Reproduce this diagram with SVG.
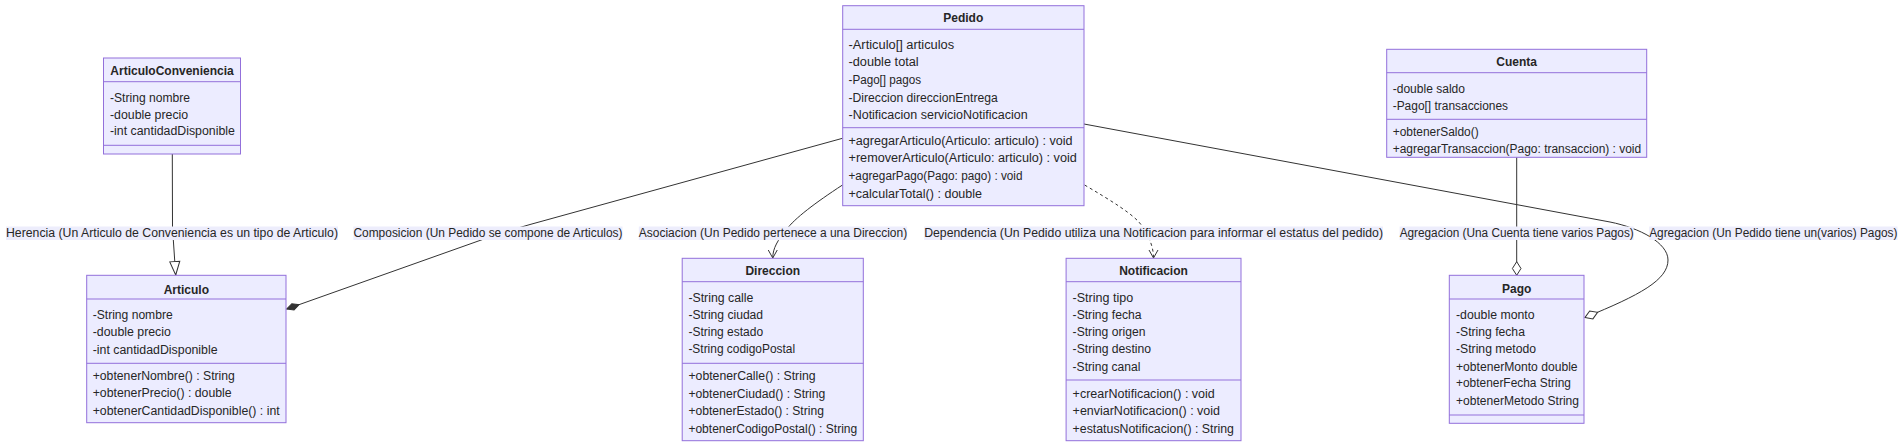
<svg xmlns="http://www.w3.org/2000/svg" width="1904" height="447" viewBox="0 0 1904 447">
<style>
.box rect{fill:#ECECFF;stroke:#9370DB;stroke-width:1}
.box line{stroke:#9370DB;stroke-width:1}
text{font-family:"Liberation Sans",Arial,sans-serif;font-size:12px;fill:#262626}
.title{font-weight:bold;text-anchor:middle}
.lbl rect{fill:#EDEDFC;stroke:none}
.lbl text{text-anchor:middle}
.edge{fill:none;stroke:#333;stroke-width:1}
.dash{stroke-dasharray:3,3}
</style>
<defs>
<marker id="composition" viewBox="-14 -5 15 10" refX="0" refY="0" markerWidth="15" markerHeight="10" orient="auto" markerUnits="userSpaceOnUse"><path d="M0,0 L-6.5,-3.3 L-13,0 L-6.5,3.3 Z" fill="#333" stroke="#333" stroke-width="1"/></marker>
<marker id="aggregation" viewBox="-15 -6 16 12" refX="0" refY="0" markerWidth="16" markerHeight="12" orient="auto" markerUnits="userSpaceOnUse"><path d="M0,0 L-6.8,-4.3 L-13.6,0 L-6.8,4.3 Z" fill="#fff" stroke="#333" stroke-width="1"/></marker>
<marker id="extension" viewBox="-15 -6 16 12" refX="0" refY="0" markerWidth="16" markerHeight="12" orient="auto" markerUnits="userSpaceOnUse"><path d="M0,0 L-13.5,-5 L-13.5,5 Z" fill="#fff" stroke="#333" stroke-width="1"/></marker>
<marker id="vee" viewBox="-10 -6 11 12" refX="0" refY="0" markerWidth="11" markerHeight="12" orient="auto" markerUnits="userSpaceOnUse"><path d="M-8,-4.5 L0,0 L-8,4.5" fill="none" stroke="#333" stroke-width="1" stroke-dasharray="none"/></marker>
</defs>

<g id="connectors">
<path class="edge" d="M172.3,154 L172.5,228 L175.7,275" marker-end="url(#extension)"/>
<path class="edge" d="M842.5,138.3 L530,224.5 Q506,231 484,239 L286.8,309" marker-end="url(#composition)"/>
<path class="edge" d="M842.5,185 C815,203 795,218 786,230 C778,240 772.75,248 772.75,258" marker-end="url(#vee)"/>
<path class="edge dash" d="M1084.6,185 C1110,200 1135,215 1142,226 C1150,238 1153.5,248 1153.5,258" marker-end="url(#vee)"/>
<path class="edge" d="M1516.7,157.3 L1516.7,275.3" marker-end="url(#aggregation)"/>
<path class="edge" d="M1084,124 L1610,222 C1640,228 1668,243 1668,260 C1668,280 1640,295 1585,317.5" marker-end="url(#aggregation)"/>
</g>

<g id="edge-labels">
<g class="lbl"><rect x="6" y="226.5" width="332" height="13.5"/><text x="172" y="237.3" textLength="332" lengthAdjust="spacingAndGlyphs">Herencia (Un Articulo de Conveniencia es un tipo de Articulo)</text></g>
<g class="lbl"><rect x="353.4" y="226.5" width="269.1" height="13.5"/><text x="488" y="237.3" textLength="269.1" lengthAdjust="spacingAndGlyphs">Composicion (Un Pedido se compone de Articulos)</text></g>
<g class="lbl"><rect x="638.8" y="226.5" width="268.4" height="13.5"/><text x="773" y="237.3" textLength="268.4" lengthAdjust="spacingAndGlyphs">Asociacion (Un Pedido pertenece a una Direccion)</text></g>
<g class="lbl"><rect x="924.2" y="226.5" width="458.8" height="13.5"/><text x="1153.6" y="237.3" textLength="458.8" lengthAdjust="spacingAndGlyphs">Dependencia (Un Pedido utiliza una Notificacion para informar el estatus del pedido)</text></g>
<g class="lbl"><rect x="1399.6" y="226.5" width="234.1" height="13.5"/><text x="1516.7" y="237.3" textLength="234.1" lengthAdjust="spacingAndGlyphs">Agregacion (Una Cuenta tiene varios Pagos)</text></g>
<g class="lbl"><rect x="1649.2" y="226.5" width="248.3" height="13.5"/><text x="1773.3" y="237.3" textLength="248.3" lengthAdjust="spacingAndGlyphs">Agregacion (Un Pedido tiene un(varios) Pagos)</text></g>
</g>

<g id="ArticuloConveniencia" class="box">
<rect x="103.5" y="58" width="137" height="96"/>
<line x1="103.5" y1="81.7" x2="240.5" y2="81.7"/>
<line x1="103.5" y1="145.3" x2="240.5" y2="145.3"/>
<text class="title" x="172" y="74.7">ArticuloConveniencia</text>
<text x="110" y="102" textLength="80" lengthAdjust="spacingAndGlyphs">-String nombre</text>
<text x="110" y="118.7" textLength="78.2" lengthAdjust="spacingAndGlyphs">-double precio</text>
<text x="110" y="135.4" textLength="124.9" lengthAdjust="spacingAndGlyphs">-int cantidadDisponible</text>
</g>

<g id="Articulo" class="box">
<rect x="86.7" y="275.3" width="199.3" height="147.4"/>
<line x1="86.7" y1="299" x2="286" y2="299"/>
<line x1="86.7" y1="363.3" x2="286" y2="363.3"/>
<text class="title" x="186.3" y="293.5">Articulo</text>
<text x="92.7" y="319" textLength="80" lengthAdjust="spacingAndGlyphs">-String nombre</text>
<text x="92.7" y="336.2" textLength="78.2" lengthAdjust="spacingAndGlyphs">-double precio</text>
<text x="92.7" y="353.5" textLength="124.9" lengthAdjust="spacingAndGlyphs">-int cantidadDisponible</text>
<text x="92.7" y="379.5" textLength="142.2" lengthAdjust="spacingAndGlyphs">+obtenerNombre() : String</text>
<text x="92.7" y="397" textLength="139" lengthAdjust="spacingAndGlyphs">+obtenerPrecio() : double</text>
<text x="92.7" y="414.7" textLength="187" lengthAdjust="spacingAndGlyphs">+obtenerCantidadDisponible() : int</text>
</g>

<g id="Pedido" class="box">
<rect x="842.7" y="5.7" width="241.3" height="200"/>
<line x1="842.7" y1="29.3" x2="1084" y2="29.3"/>
<line x1="842.7" y1="127.7" x2="1084" y2="127.7"/>
<text class="title" x="963.3" y="22.4">Pedido</text>
<text x="848.5" y="48.5" textLength="105.7" lengthAdjust="spacingAndGlyphs">-Articulo[] articulos</text>
<text x="848.5" y="66.2" textLength="70.2" lengthAdjust="spacingAndGlyphs">-double total</text>
<text x="848.5" y="83.9" textLength="72.6" lengthAdjust="spacingAndGlyphs">-Pago[] pagos</text>
<text x="848.5" y="101.6" textLength="149.2" lengthAdjust="spacingAndGlyphs">-Direccion direccionEntrega</text>
<text x="848.5" y="119.3" textLength="179.1" lengthAdjust="spacingAndGlyphs">-Notificacion servicioNotificacion</text>
<text x="848.5" y="144.7" textLength="224.1" lengthAdjust="spacingAndGlyphs">+agregarArticulo(Articulo: articulo) : void</text>
<text x="848.5" y="162.4" textLength="228.3" lengthAdjust="spacingAndGlyphs">+removerArticulo(Articulo: articulo) : void</text>
<text x="848.5" y="180.1" textLength="174" lengthAdjust="spacingAndGlyphs">+agregarPago(Pago: pago) : void</text>
<text x="848.5" y="197.8" textLength="133.6" lengthAdjust="spacingAndGlyphs">+calcularTotal() : double</text>
</g>

<g id="Direccion" class="box">
<rect x="682.2" y="258.3" width="181.1" height="182.4"/>
<line x1="682.2" y1="281.7" x2="863.3" y2="281.7"/>
<line x1="682.2" y1="363.3" x2="863.3" y2="363.3"/>
<text class="title" x="772.75" y="275">Direccion</text>
<text x="688.4" y="301.5" textLength="65" lengthAdjust="spacingAndGlyphs">-String calle</text>
<text x="688.4" y="318.7" textLength="74.7" lengthAdjust="spacingAndGlyphs">-String ciudad</text>
<text x="688.4" y="336" textLength="74.7" lengthAdjust="spacingAndGlyphs">-String estado</text>
<text x="688.4" y="353.3" textLength="106.7" lengthAdjust="spacingAndGlyphs">-String codigoPostal</text>
<text x="688.4" y="380.2" textLength="127.2" lengthAdjust="spacingAndGlyphs">+obtenerCalle() : String</text>
<text x="688.4" y="397.9" textLength="136.9" lengthAdjust="spacingAndGlyphs">+obtenerCiudad() : String</text>
<text x="688.4" y="415.3" textLength="135.5" lengthAdjust="spacingAndGlyphs">+obtenerEstado() : String</text>
<text x="688.4" y="432.6" textLength="168.8" lengthAdjust="spacingAndGlyphs">+obtenerCodigoPostal() : String</text>
</g>

<g id="Notificacion" class="box">
<rect x="1066.1" y="258.3" width="174.9" height="182.4"/>
<line x1="1066.1" y1="281.7" x2="1241" y2="281.7"/>
<line x1="1066.1" y1="380" x2="1241" y2="380"/>
<text class="title" x="1153.5" y="275">Notificacion</text>
<text x="1072.6" y="301.5" textLength="60.5" lengthAdjust="spacingAndGlyphs">-String tipo</text>
<text x="1072.6" y="318.7" textLength="68.9" lengthAdjust="spacingAndGlyphs">-String fecha</text>
<text x="1072.6" y="336" textLength="72.8" lengthAdjust="spacingAndGlyphs">-String origen</text>
<text x="1072.6" y="353.3" textLength="78.4" lengthAdjust="spacingAndGlyphs">-String destino</text>
<text x="1072.6" y="370.7" textLength="67.8" lengthAdjust="spacingAndGlyphs">-String canal</text>
<text x="1072.6" y="397.9" textLength="142.2" lengthAdjust="spacingAndGlyphs">+crearNotificacion() : void</text>
<text x="1072.6" y="415.3" textLength="147.4" lengthAdjust="spacingAndGlyphs">+enviarNotificacion() : void</text>
<text x="1072.6" y="432.6" textLength="161.4" lengthAdjust="spacingAndGlyphs">+estatusNotificacion() : String</text>
</g>

<g id="Cuenta" class="box">
<rect x="1386.7" y="49.3" width="260" height="108"/>
<line x1="1386.7" y1="72.7" x2="1646.7" y2="72.7"/>
<line x1="1386.7" y1="119.3" x2="1646.7" y2="119.3"/>
<text class="title" x="1516.7" y="66">Cuenta</text>
<text x="1392.7" y="93" textLength="72.3" lengthAdjust="spacingAndGlyphs">-double saldo</text>
<text x="1392.7" y="109.7" textLength="115.4" lengthAdjust="spacingAndGlyphs">-Pago[] transacciones</text>
<text x="1392.7" y="136.3" textLength="86" lengthAdjust="spacingAndGlyphs">+obtenerSaldo()</text>
<text x="1392.7" y="153.3" textLength="248.5" lengthAdjust="spacingAndGlyphs">+agregarTransaccion(Pago: transaccion) : void</text>
</g>

<g id="Pago" class="box">
<rect x="1449.3" y="275.3" width="134.7" height="148"/>
<line x1="1449.3" y1="299" x2="1584" y2="299"/>
<line x1="1449.3" y1="415" x2="1584" y2="415"/>
<text class="title" x="1516.7" y="292.5">Pago</text>
<text x="1456" y="319" textLength="78.6" lengthAdjust="spacingAndGlyphs">-double monto</text>
<text x="1456" y="335.7" textLength="68.9" lengthAdjust="spacingAndGlyphs">-String fecha</text>
<text x="1456" y="353.3" textLength="80" lengthAdjust="spacingAndGlyphs">-String metodo</text>
<text x="1456" y="370.7" textLength="121.6" lengthAdjust="spacingAndGlyphs">+obtenerMonto double</text>
<text x="1456" y="387.3" textLength="114.9" lengthAdjust="spacingAndGlyphs">+obtenerFecha String</text>
<text x="1456" y="405" textLength="123" lengthAdjust="spacingAndGlyphs">+obtenerMetodo String</text>
</g>
</svg>
